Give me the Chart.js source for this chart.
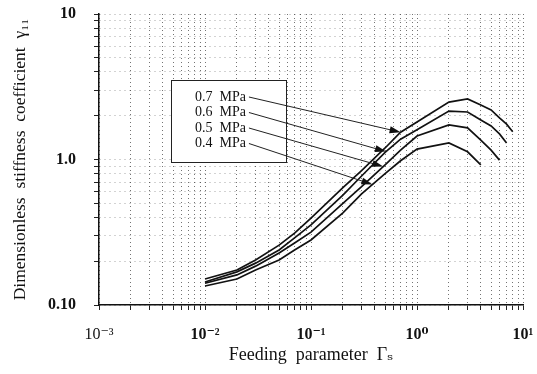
<!DOCTYPE html>
<html>
<head>
<meta charset="utf-8">
<script src="https://cdn.jsdelivr.net/npm/chart.js@4.4.1/dist/chart.umd.min.js"></script>
<style>
  html, body { margin: 0; padding: 0; background: #fff; }
  #wrap { width: 537px; height: 374px; }
</style>
</head>
<body>
<div id="wrap"><canvas id="chart"></canvas></div>
<script>
// feeding parameter values where the curves were read
const feeding = [0.01, 0.02, 0.03, 0.05, 0.07, 0.1, 0.2, 0.3, 0.5, 0.7, 1, 2, 3, 4, 5, 6, 7, 8];

// supply pressures and their stiffness curves
const pressures = ['0.7', '0.6', '0.5', '0.4'];
const stiff07 = [0.151, 0.174, 0.204, 0.258, 0.312, 0.396, 0.64, 0.84, 1.20, 1.54, 1.81, 2.48, 2.61, 2.37, 2.19, 1.93, 1.75, 1.55];
const stiff06 = [0.144, 0.169, 0.194, 0.239, 0.289, 0.355, 0.57, 0.77, 1.12, 1.38, 1.60, 2.15, 2.12, 1.87, 1.70, 1.50, 1.30];
const stiff05 = [0.141, 0.161, 0.185, 0.228, 0.267, 0.317, 0.50, 0.65, 0.92, 1.16, 1.45, 1.73, 1.65, 1.36, 1.16, 0.99];
const stiff04 = [0.135, 0.151, 0.174, 0.204, 0.239, 0.280, 0.43, 0.58, 0.80, 0.98, 1.18, 1.30, 1.13, 0.92];
const curves = [stiff07, stiff06, stiff05, stiff04];

// where each legend arrow touches its curve (feeding parameter)
const arrowAt = [0.70, 0.51, 0.48, 0.38];

// axis ticks
const xMajors = [0.001, 0.01, 0.1, 1, 10];
const xTickLabels = ['10⁻³', '10⁻²', '10⁻¹', '10⁰', '10¹'];
const yMajors = [0.1, 1, 10];
const yTickLabels = ['0.10', '1.0', '10'];

const SERIF = '"Liberation Serif", "DejaVu Serif", serif';

function decadeTicks(majors) {
  const out = [];
  for (let i = 0; i < majors.length; i++) {
    out.push(majors[i]);
    if (i < majors.length - 1) {
      for (let m = 2; m <= 9; m++) out.push(m * majors[i]);
    }
  }
  return out.sort((a, b) => a - b);
}

function majorLabel(value, majors, labels) {
  const k = majors.findIndex(v => Math.abs(Math.log10(v) - Math.log10(value)) < 1e-9);
  return k >= 0 ? labels[k] : '';
}

// log-log interpolation on a curve
function curveAt(xs, ys, xv) {
  for (let i = 0; i < ys.length - 1; i++) {
    if (xv >= xs[i] && xv <= xs[i + 1]) {
      const t = Math.log(xv / xs[i]) / Math.log(xs[i + 1] / xs[i]);
      return Math.exp(Math.log(ys[i]) + t * (Math.log(ys[i + 1]) - Math.log(ys[i])));
    }
  }
  return ys[ys.length - 1];
}

const legendBox = {
  id: 'legendBox',
  afterDatasetsDraw(chart) {
    const { ctx, chartArea: a, scales: { x, y } } = chart;
    const bx = Math.round(a.left + a.width * 0.17);
    const by = Math.round(a.top + a.height * 0.227);
    const bw = Math.round(a.width * 0.271);
    const bh = Math.round(a.height * 0.282);

    ctx.save();
    ctx.fillStyle = '#fff';
    ctx.fillRect(bx, by, bw, bh);
    ctx.strokeStyle = '#222';
    ctx.lineWidth = 1;
    ctx.strokeRect(bx + 0.5, by + 0.5, bw, bh);

    ctx.font = '14px ' + SERIF;
    ctx.fillStyle = '#111';
    ctx.textBaseline = 'middle';
    pressures.forEach((p, i) => {
      const label = p + '  MPa';
      const tx = bx + 24;
      const ty = by + 17 + i * 15.5;
      ctx.fillText(label, tx, ty);

      const sx = tx + ctx.measureText(label).width + 3;
      const sy = ty;
      const xv = arrowAt[i];
      const ex = x.getPixelForValue(xv);
      const ey = y.getPixelForValue(curveAt(feeding, curves[i], xv));
      const ang = Math.atan2(ey - sy, ex - sx);

      ctx.strokeStyle = '#222';
      ctx.lineWidth = 1;
      ctx.beginPath();
      ctx.moveTo(sx, sy);
      ctx.lineTo(ex - 8 * Math.cos(ang), ey - 8 * Math.sin(ang));
      ctx.stroke();

      ctx.fillStyle = '#111';
      ctx.beginPath();
      ctx.moveTo(ex, ey);
      ctx.lineTo(ex - 11 * Math.cos(ang) + 3.5 * Math.sin(ang), ey - 11 * Math.sin(ang) - 3.5 * Math.cos(ang));
      ctx.lineTo(ex - 11 * Math.cos(ang) - 3.5 * Math.sin(ang), ey - 11 * Math.sin(ang) + 3.5 * Math.cos(ang));
      ctx.closePath();
      ctx.fill();
    });
    ctx.restore();
  }
};

new Chart(document.getElementById('chart').getContext('2d'), {
  type: 'line',
  data: {
    datasets: curves.map((ys, i) => ({
      label: pressures[i] + ' MPa',
      data: ys.map((v, j) => ({ x: feeding[j], y: v })),
      borderColor: '#111',
      borderWidth: 1.7,
      pointRadius: 0,
      tension: 0,
      fill: false
    }))
  },
  options: {
    responsive: true,
    maintainAspectRatio: false,
    animation: false,
    layout: { padding: { left: 0, right: 14, top: 14, bottom: 0 } },
    plugins: {
      legend: { display: false },
      tooltip: { enabled: false }
    },
    scales: {
      x: {
        type: 'logarithmic',
        min: 0.001,
        max: 10,
        afterBuildTicks: scale => { scale.ticks = decadeTicks(xMajors).map(v => ({ value: v })); },
        afterFit: scale => {
          scale.height = 69;
          scale.paddingLeft = 0;
          scale.paddingRight = 0;
        },
        grid: {
          color: 'rgba(0,0,0,0.55)',
          lineWidth: 1,
          tickLength: 5,
          tickColor: '#222',
          tickBorderDash: []
        },
        border: { display: true, color: '#111', width: 1.5, dash: [1, 3] },
        ticks: {
          autoSkip: false,
          maxRotation: 0,
          padding: 15,
          color: '#111',
          font: ctx => ({ family: SERIF, size: 16, weight: ctx.index === 0 ? 'normal' : 'bold' }),
          callback: v => majorLabel(v, xMajors, xTickLabels)
        },
        title: {
          display: true,
          text: 'Feeding  parameter  Γₛ',
          color: '#111',
          font: { family: SERIF, size: 18 },
          padding: { top: 0, bottom: 8 }
        }
      },
      y: {
        type: 'logarithmic',
        min: 0.1,
        max: 10,
        afterBuildTicks: scale => { scale.ticks = decadeTicks(yMajors).map(v => ({ value: v })); },
        afterFit: scale => {
          scale.width = 99;
          scale.paddingTop = 0;
          scale.paddingBottom = 0;
        },
        grid: {
          color: 'rgba(0,0,0,0.35)',
          lineWidth: 1,
          tickLength: 5,
          tickColor: '#222',
          tickBorderDash: []
        },
        border: { display: true, color: '#111', width: 1.5, dash: [1, 4] },
        ticks: {
          autoSkip: false,
          padding: 18,
          color: '#111',
          font: { family: SERIF, size: 16, weight: 'bold' },
          callback: v => majorLabel(v, yMajors, yTickLabels)
        },
        title: {
          display: true,
          text: 'Dimensionless  stiffness  coefficient  γ₁₁',
          color: '#111',
          font: { family: SERIF, size: 17.5 },
          padding: { top: 10, bottom: 0 }
        }
      }
    }
  },
  plugins: [legendBox]
});
</script>
</body>
</html>
